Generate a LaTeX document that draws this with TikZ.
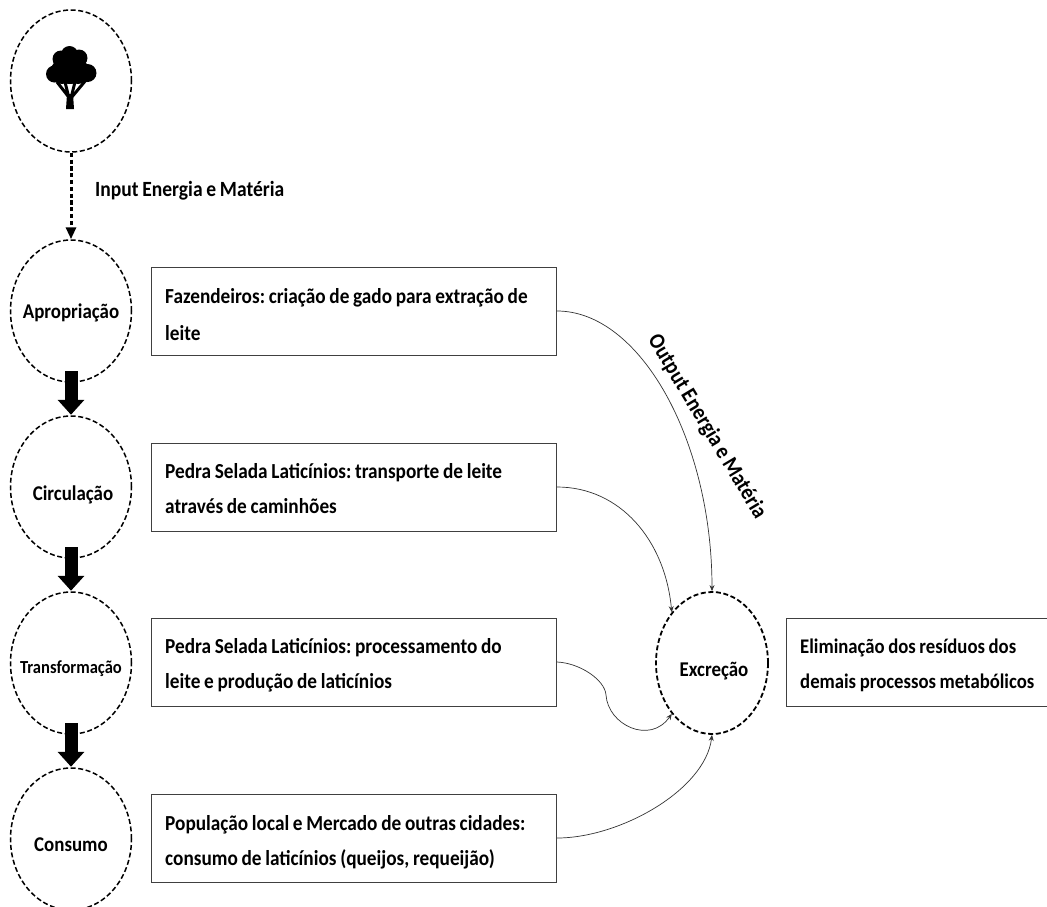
\documentclass[tikz,border=0pt]{standalone}
\usepackage{fontspec}
\setmainfont{Carlito}[FakeStretch=0.9,WordSpace=0.85]
\usetikzlibrary{arrows.meta,shapes.geometric}
\tikzset{
  x=1pt,y=-1pt,
  stage/.style={ellipse,draw=black,line width=1.5pt,dash pattern=on 5pt off 2.6pt,minimum width=121pt,minimum height=142pt,inner sep=0pt},
  stagetext/.style={inner sep=0pt,font=\bfseries\fontsize{21}{24}\selectfont},
  infobox/.style={rectangle,draw=black!75,line width=1pt,minimum height=88pt,anchor=west,inner sep=0pt},
  infotext/.style={anchor=west,align=left,inner sep=0pt,font=\frenchspacing\bfseries\fontsize{21.4}{35}\selectfont},
  bigarrow/.style={-{Triangle[length=15pt,width=26pt]},line width=13pt,black,shorten >=0.5pt},
  flow/.style={-{Stealth[length=6pt,width=5pt]},line width=0.7pt,black!80},
  plain/.style={font=\bfseries\fontsize{21.7}{24}\selectfont,inner sep=0pt}
}
\begin{document}
\begin{tikzpicture}
\useasboundingbox (0,0) rectangle (1047,906);
\clip (0,0) rectangle (1047,906);
\node[stage] (source) at (71,81) {};
\node[stage] (aprop) at (71,311) {};
\node[stage] (circ) at (71,487) {};
\node[stage] (transf) at (71,663) {};
\node[stage] (cons) at (71,839) {};
\node[stage,minimum width=112pt,line width=1.8pt] (excr) at (712,663) {};
\node[stagetext] (taprop) at (71,313) {Apropriação};
\node[stagetext] (tcirc) at (73,495) {Circulação};
\node[stagetext,font=\bfseries\fontsize{18.4}{20}\selectfont] (ttransf) at (71,669) {Transformação};
\node[stagetext] (tcons) at (71,845) {Consumo};
\node[stagetext] (texcr) at (714,671) {Excreção};
% tree
\fill (69.5,54.5) circle (8.5) (61,59) circle (8.5) (79,58) circle (8.5) (87.5,73) circle (9) (54.5,74) circle (8.5)
      (70,69) circle (15) (62,72) circle (12) (78,72) circle (12);
\draw[line width=3pt] (69.5,98) -- (57,82) (69,98) -- (65,82) (71,98) -- (75,82);
\draw[line width=3pt] (71,98) -- (86,80);
\fill (66,109) -- (67,94) -- (73,94) -- (74,109) -- cycle;
% boxes
\node[infobox,minimum width=405pt] (b1) at (151,311) {};
\node[infobox,minimum width=405pt] (b2) at (151,487) {};
\node[infobox,minimum width=405pt] (b3) at (151,662) {};
\node[infobox,minimum width=405pt] (b4) at (151,838) {};
\node[infobox,minimum width=261pt] (b5) at (786,662) {};
\node[infotext] (t1) at (165,315) {Fazendeiros: criação de gado para extração de\\[2pt]leite};
\node[infotext] (t2) at (165,489) {Pedra Selada Laticínios: transporte de leite\\através de caminhões};
\node[infotext] (t3) at (165,665) {Pedra Selada Laticínios: processamento do\\leite e produção de laticínios};
\node[infotext] (t4) at (165,842) {População local e Mercado de outras cidades:\\consumo de laticínios (queijos, requeijão)};
\node[infotext,font=\frenchspacing\bfseries\fontsize{20.8}{35}\selectfont] (t5) at (800,665) {Eliminação dos resíduos dos\\demais processos metabólicos};
% labels
\node[plain,anchor=west] (inlab) at (95,191) {Input Energia e Matéria};
\node[plain,rotate=-59,font=\bfseries\fontsize{22.4}{24}\selectfont] (outlab) at (707,427) {Output Energia e Matéria};
% arrows
\draw[-{Triangle[length=12pt,width=10pt]},line width=3pt,dash pattern=on 4.2pt off 2.6pt] (source.south) -- (aprop.north);
\draw[bigarrow] (71,371) -- (aprop.south |- circ.north);
\draw[bigarrow] (71,547) -- (circ.south |- transf.north);
\draw[bigarrow] (71,723) -- (transf.south |- cons.north);
% flows
\draw[flow] (b1.east) .. controls (640,311) and (712,440) .. (excr.north);
\draw[flow] (b2.east) .. controls (620,487) and (665,540) .. (excr.north west);
\draw[flow] (b3.east) .. controls (580,663) and (605,680) .. (606,695) .. controls (608,725) and (650,745) .. (excr.south west);
\draw[flow] (b4.east) .. controls (620,838) and (705,790) .. (excr.south);
\end{tikzpicture}
\end{document}
